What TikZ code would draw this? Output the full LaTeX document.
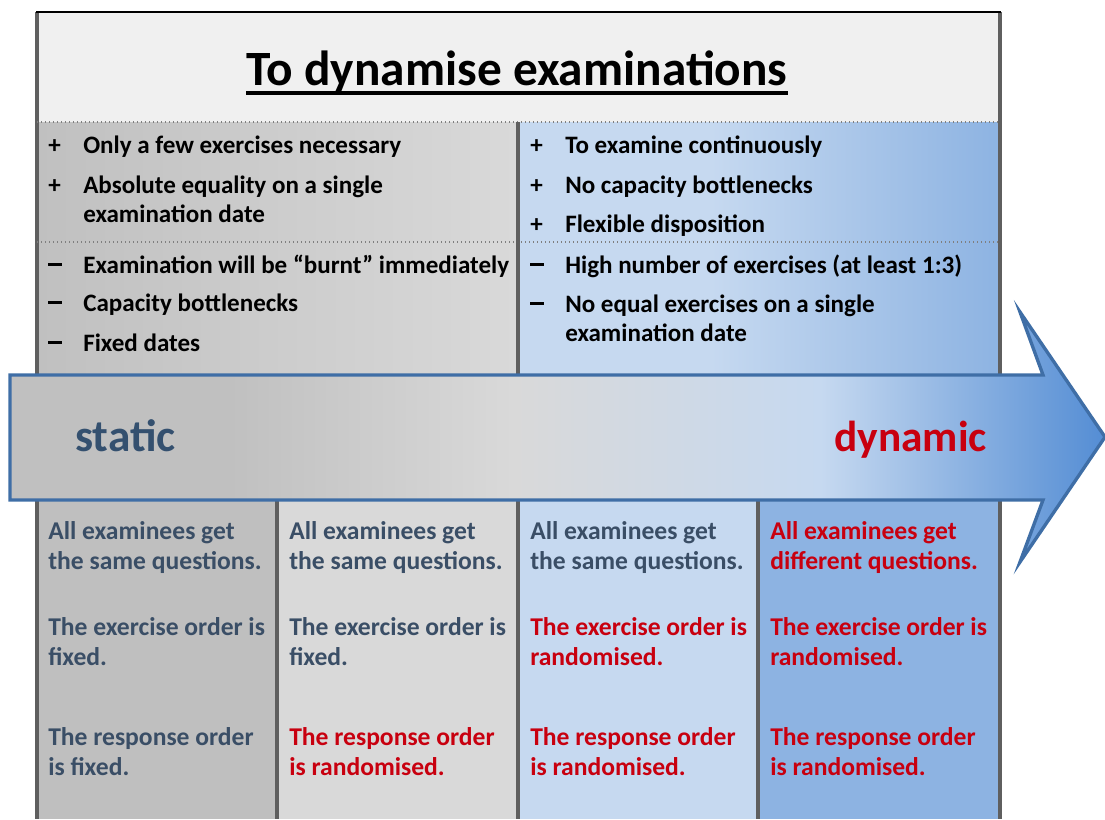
\documentclass[tikz,border=0pt]{standalone}
\usepackage{fontspec}
\setmainfont{Carlito}
\usetikzlibrary{calc}
\definecolor{titlebg}{HTML}{F0F0F0}
\definecolor{frameg}{HTML}{5F5F5F}
\definecolor{dotg}{HTML}{7F7F7F}
\definecolor{ag1}{HTML}{C0C0C0}
\definecolor{ag2}{HTML}{D9D9D9}
\definecolor{ag3}{HTML}{C6D9F0}
\definecolor{ag4}{HTML}{548DD4}
\definecolor{bp1}{HTML}{C6D9F0}
\definecolor{bp2}{HTML}{8DB3E2}
\definecolor{c1}{HTML}{BFBFBF}
\definecolor{c2}{HTML}{D9D9D9}
\definecolor{c3}{HTML}{C6D9F0}
\definecolor{c4}{HTML}{8DB3E2}
\definecolor{arrowline}{HTML}{3F6EA6}
\definecolor{darktxt}{HTML}{3A4E66}
\definecolor{stattxt}{HTML}{34506F}
\definecolor{redtxt}{HTML}{C8000F}
\pgfdeclarehorizontalshading{arrowshade}{100bp}{color(0bp)=(ag1); color(25bp)=(ag1); color(35bp)=(ag1); color(48bp)=(ag2); color(62bp)=(ag3); color(75bp)=(ag4); color(100bp)=(ag4)}
\pgfdeclarehorizontalshading{blueshade}{100bp}{color(0bp)=(bp1); color(25bp)=(bp1); color(45bp)=(bp1); color(75bp)=(bp2); color(100bp)=(bp2)}
\newcommand{\mydash}{\rule[5.5pt]{10.5pt}{2pt}}
\tikzset{
  body/.style={font=\fontsize{18.8}{22}\selectfont\bfseries, inner sep=0pt, anchor=base west, text=black},
  coltxt/.style={font=\fontsize{19.2}{22}\selectfont\bfseries, inner sep=0pt, anchor=base west, text=darktxt},
  coltxtred/.style={coltxt, text=redtxt},
  bigword/.style={font=\fontsize{32.5}{36}\selectfont\bfseries, inner sep=0pt, anchor=base west},
  dotline/.style={draw=dotg, line width=1pt, dotted},
  frameline/.style={draw=frameg, line width=2.5pt},
  divline/.style={draw=frameg, line width=3pt}
}
\begin{document}
\begin{tikzpicture}[x=0.75pt,y=-0.75pt]
\useasboundingbox (0,0) rectangle (1105,819);
% backgrounds
\fill[titlebg] (37,12) rectangle (1000,122);
\shade[left color=ag1, right color=ag2] (37,122) rectangle (518,375);
\shade[shading=blueshade] (518,122) rectangle (1000,375);
\fill[c1] (37,500) rectangle (277,819);
\fill[c2] (277,500) rectangle (518,819);
\fill[c3] (518,500) rectangle (758,819);
\fill[c4] (758,500) rectangle (1000,819);
% frame
\draw[frameline] (37,12) -- (37,819);
\draw[frameline] (1000,12) -- (1000,819);
\draw[black, line width=2pt] (36,12) -- (1001,12);
\draw[dotline] (37,122) -- (1000,122);
\draw[dotline] (37,242) -- (1000,242);
\draw[divline] (518,122) -- (518,375);
\draw[divline] (277,500) -- (277,819);
\draw[divline] (518,500) -- (518,819);
\draw[divline] (758,500) -- (758,819);
% title
\node[font=\fontsize{37}{40}\selectfont\bfseries, inner sep=0pt, anchor=base] (title) at (517,85) {To dynamise\ examinations};
\draw[black, line width=3pt] ($(title.base west)+(0,8)$) -- ($(title.base east)+(0,8)$);
% upper left
\node[body] (lp1m) at (48,153) {+};
\node[body] (lp1) at (83,153) {Only a few exercises necessary};
\node[body] (lp2m) at (48,193) {+};
\node[body] (lp2) at (83,193) {Absolute equality on a single};
\node[body] (lp2b) at (83,222) {examination date};
\node[body] (lm1m) at (48,273) {\mydash};
\node[body] (lm1) at (83,273) {Examination will be “burnt” immediately};
\node[body] (lm2m) at (48,311) {\mydash};
\node[body] (lm2) at (83,311) {Capacity bottlenecks};
\node[body] (lm3m) at (48,351) {\mydash};
\node[body] (lm3) at (83,351) {Fixed dates};
% upper right
\node[body] (rp1m) at (530,153) {+};
\node[body] (rp1) at (565,153) {To examine continuously};
\node[body] (rp2m) at (530,193) {+};
\node[body] (rp2) at (565,193) {No capacity bottlenecks};
\node[body] (rp3m) at (530,232) {+};
\node[body] (rp3) at (565,232) {Flexible disposition};
\node[body] (rm1m) at (530,273) {\mydash};
\node[body] (rm1) at (565,273) {High number of exercises (at least 1:3)};
\node[body] (rm2m) at (530,312) {\mydash};
\node[body] (rm2) at (565,312) {No equal exercises on a single};
\node[body] (rm2b) at (565,341) {examination date};
% arrow
\shade[shading=arrowshade, draw=arrowline, line width=2.5pt, line join=miter]
  (10,375) -- (1043,375) -- (1020,312) -- (1105,437) -- (1020,562) -- (1043,500) -- (10,500) -- cycle;
\node[bigword, text=stattxt, font=\fontsize{34}{36}\selectfont\bfseries] (static) at (75,451) {static};
\node[bigword, text=redtxt, anchor=base east] (dynamic) at (987,451) {dynamic};
% columns
\node[coltxt] (a1) at (48,539) {All examinees get};
\node[coltxt] (a1b) at (48,569) {the same questions.};
\node[coltxt] (a2) at (48,635) {The exercise order is};
\node[coltxt] (a2b) at (48,665) {fixed.};
\node[coltxt] (a3) at (48,745) {The response order};
\node[coltxt] (a3b) at (48,775) {is fixed.};
\node[coltxt] (b1) at (289,539) {All examinees get};
\node[coltxt] (b1b) at (289,569) {the same questions.};
\node[coltxt] (b2) at (289,635) {The exercise order is};
\node[coltxt] (b2b) at (289,665) {fixed.};
\node[coltxtred] (b3) at (289,745) {The response order};
\node[coltxtred] (b3b) at (289,775) {is randomised.};
\node[coltxt] (c1n) at (530,539) {All examinees get};
\node[coltxt] (c1b) at (530,569) {the same questions.};
\node[coltxtred] (c2) at (530,635) {The exercise order is};
\node[coltxtred] (c2b) at (530,665) {randomised.};
\node[coltxtred] (c3) at (530,745) {The response order};
\node[coltxtred] (c3b) at (530,775) {is randomised.};
\node[coltxtred] (d1) at (770,539) {All examinees get};
\node[coltxtred] (d1b) at (770,569) {different questions.};
\node[coltxtred] (d2) at (770,635) {The exercise order is};
\node[coltxtred] (d2b) at (770,665) {randomised.};
\node[coltxtred] (d3) at (770,745) {The response order};
\node[coltxtred] (d3b) at (770,775) {is randomised.};
\end{tikzpicture}
\end{document}
